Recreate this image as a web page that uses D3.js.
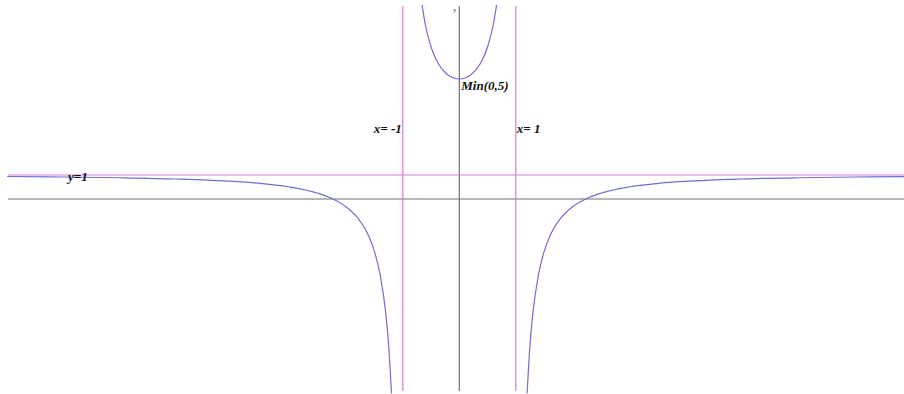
<!DOCTYPE html>
<html>
<head>
<meta charset="utf-8">
<script src="https://cdn.jsdelivr.net/npm/d3@7"></script>
<style>
    body { margin: 0; background: #fff; }
    .lbl { font-family: "Liberation Serif", "Times New Roman", serif; font-weight: bold; font-style: italic; font-size: 13px; fill: #111; }
</style>
</head>
<body>
<svg id="chart" width="904" height="394"></svg>
<script>
const leftXs = [-8, -7, -6, -5, -4, -3.5, -3, -2.5, -2.236, -2, -1.8, -1.6, -1.5, -1.4, -1.3, -1.25, -1.2];
const leftYs = [0.937, 0.917, 0.886, 0.833, 0.733, 0.644, 0.5, 0.238, 0, -0.333, -0.786, -1.564, -2.2, -3.167, -4.797, -6.111, -8.09];
const midXs = [-0.66, -0.6, -0.5, -0.4, -0.3, -0.2, -0.1, 0, 0.1, 0.2, 0.3, 0.4, 0.5, 0.6, 0.66];
const midYs = [8.09, 7.25, 6.333, 5.762, 5.396, 5.167, 5.04, 5, 5.04, 5.167, 5.396, 5.762, 6.333, 7.25, 8.09];
const rightXs = leftXs.map(x => -x).reverse();
const rightYs = leftYs.slice().reverse();

const vAsym = [-1, 1];
const vLabels = ["x= -1", "x= 1"];
const hAsym = 1;
const minPoint = [0, 5];

let svg = d3.select("#chart");
let x = d3.scaleLinear().domain([-8, 8]).range([7.3, 911.3]);
let y = d3.scaleLinear().domain([-8, 8]).range([391, 7]);

// axes
svg.append("line")
    .attr("x1", 8).attr("x2", 904)
    .attr("y1", y(0)).attr("y2", y(0))
    .attr("stroke", "#707070").attr("stroke-width", 1.2);
svg.append("line")
    .attr("x1", x(0)).attr("x2", x(0))
    .attr("y1", 6).attr("y2", 391)
    .attr("stroke", "#707070").attr("stroke-width", 1.2);
svg.append("text")
    .attr("x", x(0) - 6).attr("y", 12)
    .attr("font-family", "Liberation Serif, serif")
    .attr("font-size", 6).attr("fill", "#333")
    .text("y");

// asymptotes
svg.selectAll("line.va")
    .data(vAsym)
    .enter().append("line")
    .attr("class", "va")
    .attr("x1", d => x(d)).attr("x2", d => x(d))
    .attr("y1", 6).attr("y2", 391)
    .attr("stroke", "#d97ad9").attr("stroke-width", 1.2);
svg.append("line")
    .attr("x1", 8).attr("x2", 904)
    .attr("y1", y(hAsym)).attr("y2", y(hAsym))
    .attr("stroke", "#d97ad9").attr("stroke-width", 1.2);

// curve
let line = d3.line()
    .x(d => x(d[0]))
    .y(d => y(d[1]))
    .curve(d3.curveMonotoneX);
let branches = [
    d3.zip(leftXs, leftYs),
    d3.zip(midXs, midYs),
    d3.zip(rightXs, rightYs)
];
svg.selectAll("path.branch")
    .data(branches)
    .enter().append("path")
    .attr("class", "branch")
    .attr("d", line)
    .attr("fill", "none")
    .attr("stroke", "#6f6fd0")
    .attr("stroke-width", 1.2);

// labels
svg.append("text").attr("class", "lbl")
    .attr("x", x(minPoint[0]) + 2).attr("y", y(minPoint[1]) + 11)
    .text("Min(0,5)");
svg.selectAll("text.va")
    .data(vAsym)
    .enter().append("text")
    .attr("class", "lbl va")
    .attr("x", d => d < 0 ? x(d) - 1 : x(d) + 1)
    .attr("y", 133)
    .attr("text-anchor", d => d < 0 ? "end" : "start")
    .text((d, i) => vLabels[i]);
svg.append("text").attr("class", "lbl")
    .attr("x", 68).attr("y", y(hAsym) + 6)
    .text("y=1");
</script>
</body>
</html>
